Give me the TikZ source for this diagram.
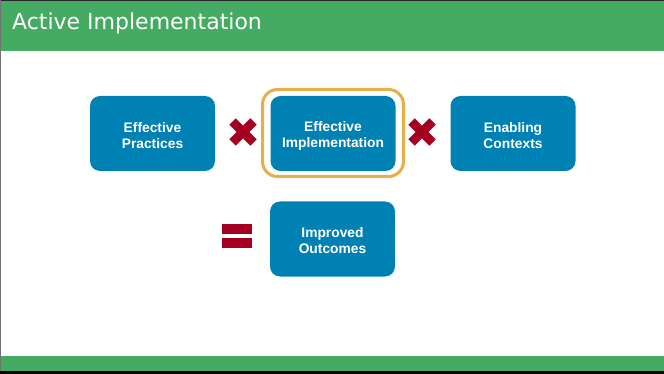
\documentclass[tikz,border=0pt]{standalone}
\usepackage{fontspec}
\usetikzlibrary{calc}
\setmainfont{Liberation Sans}
\newfontfamily\titlefont{DejaVu Sans}
\definecolor{hdrgreen}{HTML}{45AB63}
\definecolor{boxblue}{HTML}{0081B3}
\definecolor{markred}{HTML}{A50021}
\definecolor{frameorange}{HTML}{E8AE4A}
\tikzset{
  box/.style={fill=boxblue, rounded corners=10pt, minimum width=125pt, minimum height=75pt,
    text=white, font=\fontsize{13.8}{16}\selectfont\bfseries, align=center, inner sep=0pt},
  timesmark/.style={line width=9pt, markred},
  eqbar/.style={fill=markred, draw=none},
}
\begin{document}
\begin{tikzpicture}[x=1pt,y=-1pt]
\useasboundingbox (0,0) rectangle (664,374);
\fill[white] (0,0) rectangle (664,374);
% header
\fill[hdrgreen] (0,0) rectangle (664,51);
\fill[black!85] (0,0) rectangle (664,1.2);
\node[anchor=base west, text=white, font=\titlefont\fontsize{22}{24}\selectfont, inner sep=0pt] (title) at (12,29.5) {Active Implementation};
% footer
\fill[hdrgreen] (0,356) rectangle (664,371);
\fill[black] (0,371) rectangle (664,374);
\fill[black!55] (0,0) rectangle (1,371);
% boxes
\node[box] (practices) at (152.5,133.5) {\rule{0pt}{14pt}Effective\\Practices};
\node[box] (implementation) at (333,133.5) {\rule{0pt}{14pt}Effective\\Implementation};
\node[box] (contexts) at (513,133.5) {\rule{0pt}{14pt}Enabling\\Contexts};
\node[box] (outcomes) at (332.5,239) {\rule{0pt}{14pt}Improved\\Outcomes};
\node[draw=frameorange, line width=3pt, rounded corners=15pt, minimum width=141pt, minimum height=87pt, inner sep=0pt] (frame) at (333,133) {};
% times marks
\coordinate (x1) at (243,132);
\coordinate (x2) at (422,132);
\foreach \c in {x1,x2}{
  \draw[timesmark] ($(\c)+(-10.5,-10.5)$) -- ($(\c)+(10.5,10.5)$);
  \draw[timesmark] ($(\c)+(-10.5,10.5)$) -- ($(\c)+(10.5,-10.5)$);
}
% equals
\fill[eqbar] (222,224) rectangle (252,234);
\fill[eqbar] (222,238) rectangle (252,248);
\end{tikzpicture}
\end{document}
